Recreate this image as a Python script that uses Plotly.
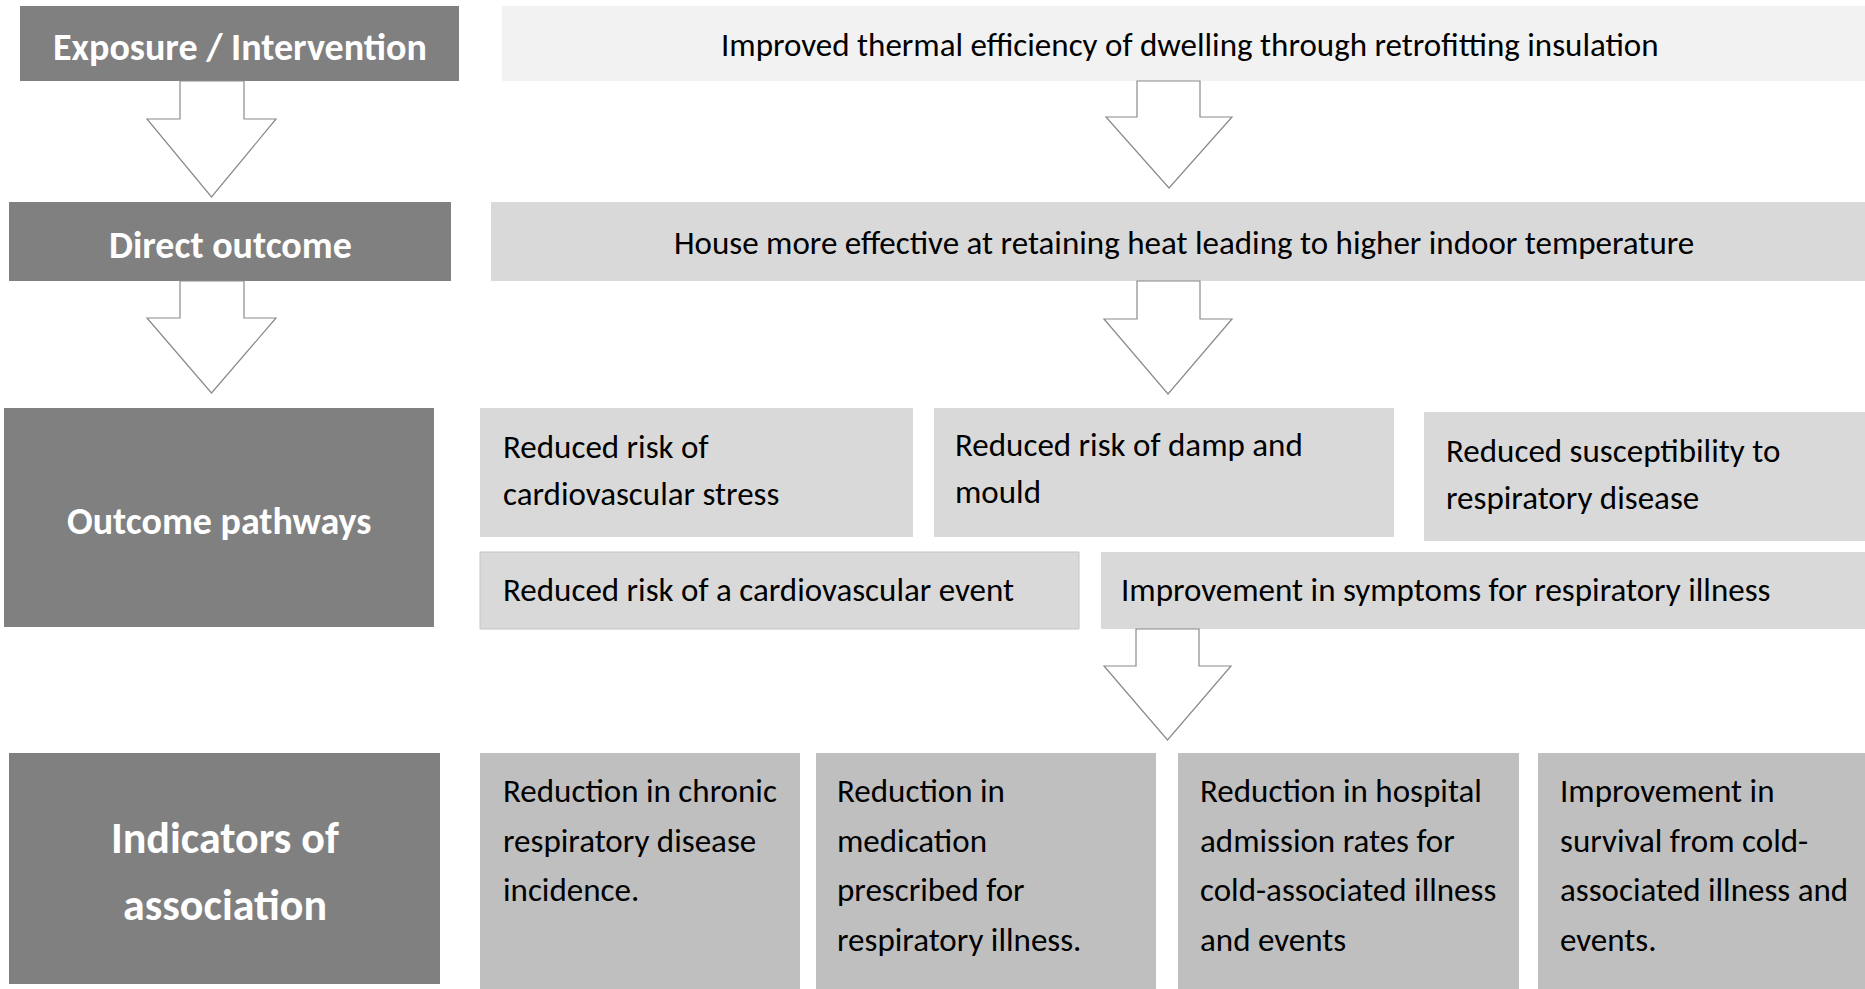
import plotly.graph_objects as go

W, H = 1865, 989
FONT = "Carlito, Calibri, Lato, sans-serif"

# ---------------- text content ----------------
stage_labels = [["Exposure / Intervention"], ["Direct outcome"], ["Outcome pathways"],
                ["Indicators of", "association"]]
intervention_text = ["Improved thermal efficiency of dwelling through retrofitting insulation"]
direct_text = ["House more effective at retaining heat leading to higher indoor temperature"]
pathway_texts = [
    ["Reduced risk of", "cardiovascular stress"],
    ["Reduced risk of damp and", "mould"],
    ["Reduced susceptibility to", "respiratory disease"],
    ["Reduced risk of a cardiovascular event"],
    ["Improvement in symptoms for respiratory illness"],
]
indicator_texts = [
    ["Reduction in chronic", "respiratory disease", "incidence."],
    ["Reduction in", "medication", "prescribed for", "respiratory illness."],
    ["Reduction in hospital", "admission rates for", "cold-associated illness", "and events"],
    ["Improvement in", "survival from cold-", "associated illness and", "events."],
]

# ---------------- layout geometry (pixels) ----------------
stage_boxes = [(20, 459, 6, 81), (9, 451, 202, 281), (4, 434, 408, 627), (9, 440, 753, 984)]
stage_sizes = [38, 38, 38, 44]
stage_line_step = 67

main_boxes = [(502, 1865, 6, 81), (491, 1865, 202, 281)]
main_colors = ["#f2f2f2", "#d9d9d9"]

pathway_boxes = [(480, 913, 408, 537), (934, 1394, 408, 537), (1424, 1865, 412, 541),
                 (480, 1079, 552, 629), (1101, 1865, 552, 629)]
pathway_text_pos = [(501, 447), (953, 445), (1444, 451), (501, 590), (1119, 590)]
pathway_step = 47

indicator_boxes = [(480, 800, 753, 989), (816, 1156, 753, 989), (1178, 1519, 753, 989),
                   (1538, 1865, 753, 989)]
indicator_text_x = [501, 835, 1198, 1558]
indicator_first_y = 791
indicator_step = 49.5

# arrows: (shaft_left, shaft_right, head_left, head_right, top, neck, tip)
arrows = [
    (180, 244, 147, 276, 81, 119, 197),
    (180, 244, 147, 276, 281, 318, 393),
    (1137, 1200, 1106, 1232, 81, 117, 188),
    (1137, 1200, 1104, 1232, 281, 319, 394),
    (1136, 1199, 1104, 1231, 629, 666, 740),
]

BODY = 33

fig = go.Figure()
fig.add_trace(go.Scatter(x=[0, W], y=[0, H], mode="markers", marker=dict(opacity=0),
                         hoverinfo="skip", showlegend=False))

shapes = []
annotations = []


def rect(b, color, line=None):
    x0, x1, y0, y1 = b
    shapes.append(dict(type="rect", xref="x", yref="y", x0=x0, x1=x1, y0=y0, y1=y1,
                       fillcolor=color, line=dict(width=line[1] if line else 0,
                                                  color=line[0] if line else color),
                       layer="below"))


def text(x, y, s, size, color="#000000", bold=False, anchor="left"):
    annotations.append(dict(x=x, y=y, xref="x", yref="y", text=f"<b>{s}</b>" if bold else s,
                            showarrow=False, xanchor=anchor, yanchor="middle",
                            font=dict(family=FONT, size=size, color=color)))


# stage (dark) boxes
for b, lines, sz in zip(stage_boxes, stage_labels, stage_sizes):
    rect(b, "#808080")
    cx = (b[0] + b[1]) / 2
    cy = (b[2] + b[3]) / 2 + 3
    n = len(lines)
    for i, s in enumerate(lines):
        text(cx, cy + (i - (n - 1) / 2) * stage_line_step, s, sz, "#ffffff", True, "center")

# main rows
for b, c, lines in zip(main_boxes, main_colors, [intervention_text, direct_text]):
    rect(b, c)
    text((b[0] + b[1]) / 2 + 6, (b[2] + b[3]) / 2 + 1, lines[0], BODY, anchor="center")

# pathway boxes
for i, (b, lines, (tx, ty)) in enumerate(zip(pathway_boxes, pathway_texts, pathway_text_pos)):
    rect(b, "#d9d9d9", ("#c4c4c4", 1) if i == 3 else None)
    for j, s in enumerate(lines):
        text(tx, ty + j * pathway_step, s, BODY)

# indicator boxes
for b, lines, tx in zip(indicator_boxes, indicator_texts, indicator_text_x):
    rect(b, "#bfbfbf")
    for j, s in enumerate(lines):
        text(tx, indicator_first_y + j * indicator_step, s, BODY)

# arrows
for sl, sr, hl, hr, top, neck, tip in arrows:
    cx = (hl + hr) / 2
    path = (f"M {sl} {top} L {sl} {neck} L {hl} {neck} L {cx} {tip} L {hr} {neck} "
            f"L {sr} {neck} L {sr} {top} Z")
    shapes.append(dict(type="path", xref="x", yref="y", path=path, fillcolor="#ffffff",
                       line=dict(color="#8a8a8a", width=1.2), layer="above"))

fig.update_layout(
    width=W, height=H, margin=dict(l=0, r=0, t=0, b=0),
    paper_bgcolor="#ffffff", plot_bgcolor="#ffffff",
    xaxis=dict(range=[0, W], visible=False, fixedrange=True),
    yaxis=dict(range=[H, 0], visible=False, fixedrange=True),
    shapes=shapes, annotations=annotations, showlegend=False,
)

fig.write_html("out.html", config={"displayModeBar": False},
               post_script="document.body.style.margin='0px';document.body.style.overflow='hidden';")
